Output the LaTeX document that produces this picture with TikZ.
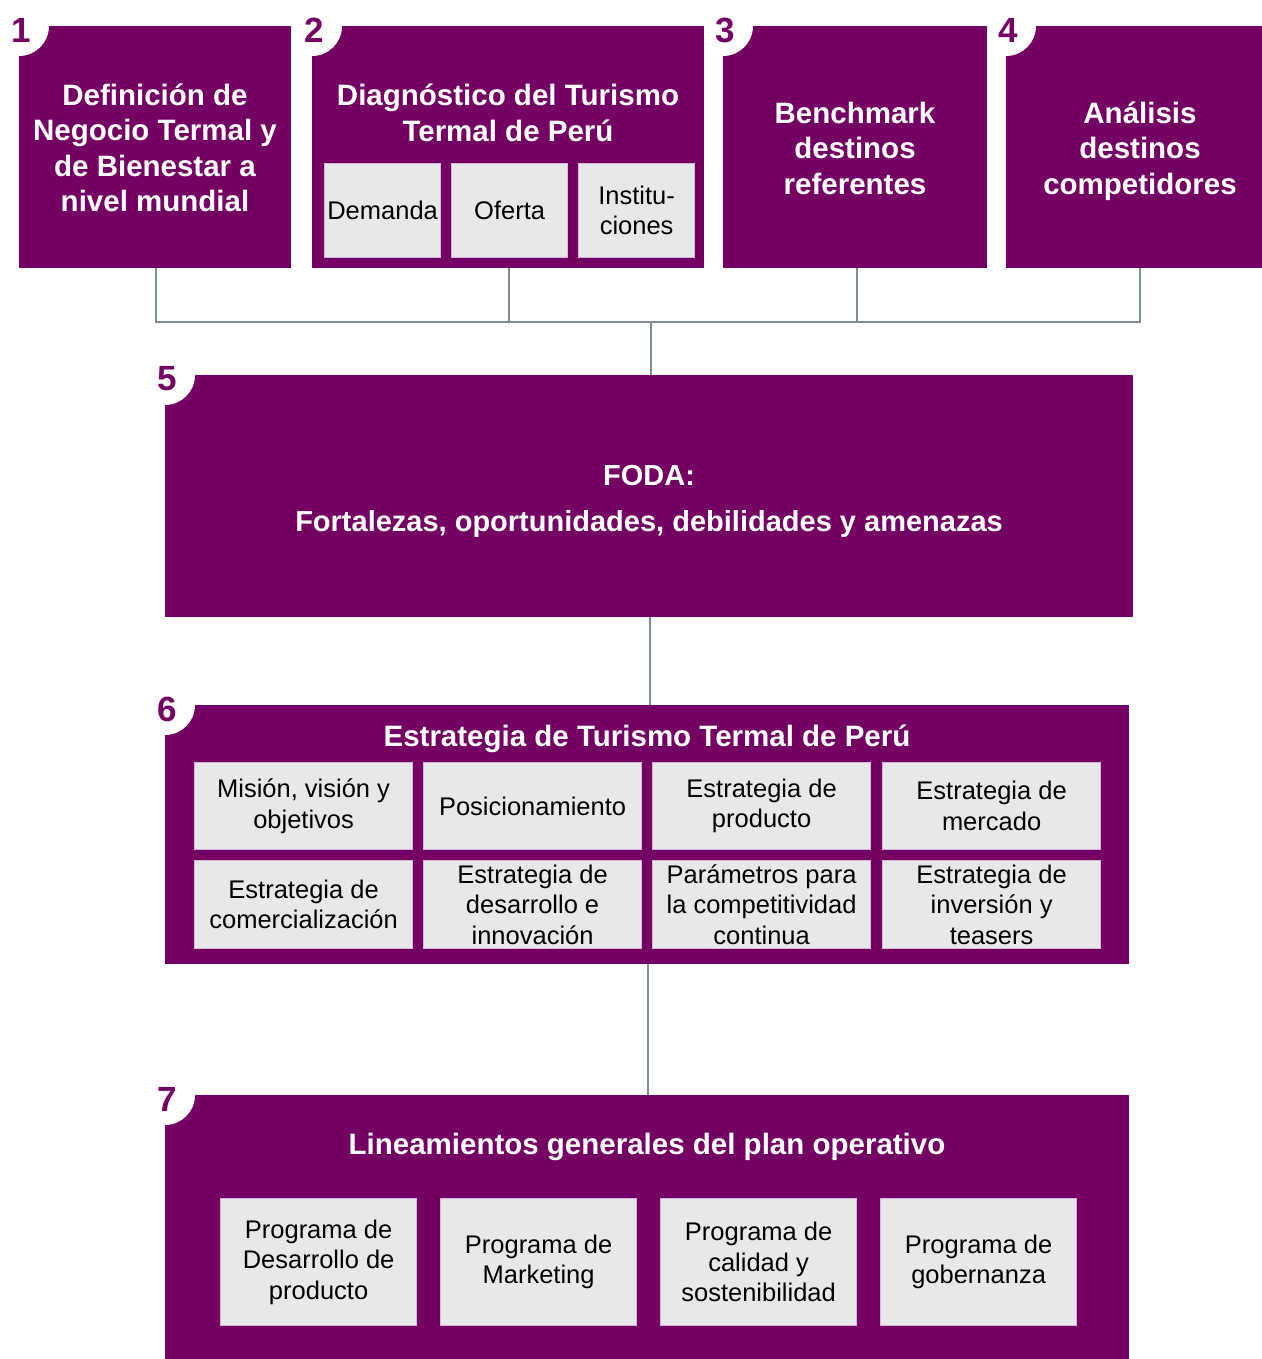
\documentclass[tikz,border=0pt]{standalone}
\usepackage{fontspec}
\setmainfont{Liberation Sans}
\definecolor{plum}{RGB}{115,0,98}
\definecolor{cellfill}{RGB}{230,232,234}
\definecolor{celledge}{RGB}{216,184,214}
\definecolor{wirecol}{RGB}{128,140,148}

\begin{document}
\begin{tikzpicture}[x=1pt,y=-1pt,
  stage/.style={fill=plum, draw=none, anchor=north west, inner sep=0pt},
  head/.style={text=white, font=\bfseries\fontsize{29.5}{35.5}\selectfont, align=center, inner sep=0pt},
  cell/.style={fill=cellfill, draw=celledge, line width=1.2pt, anchor=north west, inner sep=0pt,
    align=center, text=black, font=\fontsize{25.5}{30.5}\selectfont},
  num/.style={text=plum, font=\bfseries\fontsize{35}{35}\selectfont, inner sep=0pt},
  wire/.style={draw=wirecol, line width=2pt}]

\useasboundingbox (0,0) rectangle (1261,1359);

% stage boxes
\node[stage, minimum width=272, minimum height=242] (b1) at (19,26) {};
\node[stage, minimum width=392, minimum height=242] (b2) at (312,26) {};
\node[stage, minimum width=264, minimum height=242] (b3) at (723,26) {};
\node[stage, minimum width=268, minimum height=242] (b4) at (1006,26) {};
\node[stage, minimum width=968, minimum height=242] (b5) at (165,375) {};
\node[stage, minimum width=964, minimum height=259] (b6) at (165,705) {};
\node[stage, minimum width=964, minimum height=264] (b7) at (165,1095) {};

% rounded notch and step number at each box corner
\foreach \b/\n in {b1/1,b2/2,b3/3,b4/4,b5/5,b6/6,b7/7}{
  \fill[white] (\b.north west) -- ++(30,0) arc[start angle=0, end angle=90, radius=30] -- cycle;
  \node[num] (n\n) at ([shift={(2,4)}]\b.north west) {\n};
}

% texts of the first row
\node[head] (t1) at (155,148) {Definición de\\Negocio Termal y\\de Bienestar a\\nivel mundial};
\node[head] (t2) at (508,113) {Diagnóstico del Turismo\\Termal de Perú};
\node[head] (t3) at (855,148) {Benchmark\\destinos\\referentes};
\node[head] (t4) at (1140,151) {Análisis\\destinos\\competidores};

\node[cell, minimum width=116, minimum height=94] (d1) at (324,163) {Demanda};
\node[cell, minimum width=116, minimum height=94] (d2) at (451,163) {Oferta};
\node[cell, minimum width=116, minimum height=94] (d3) at (578,163) {Institu-\\ciones};

% FODA
\node[head, font=\bfseries\fontsize{29}{46}\selectfont] (t5) at (649,501)
  {FODA:\\Fortalezas, oportunidades, debilidades y amenazas};

% strategy
\node[head] (t6) at (647,739) {Estrategia de Turismo Termal de Perú};
\node[cell, minimum width=218, minimum height=87] (e1) at (194,762) {Misión, visión y\\objetivos};
\node[cell, minimum width=218, minimum height=87] (e2) at (423,762) {Posicionamiento};
\node[cell, minimum width=218, minimum height=87] (e3) at (652,762) {Estrategia de\\producto};
\node[cell, minimum width=218, minimum height=87] (e4) at (882,762) {Estrategia de\\mercado};
\node[cell, minimum width=218, minimum height=88] (e5) at (194,860) {Estrategia de\\comercialización};
\node[cell, minimum width=218, minimum height=88] (e6) at (423,860) {Estrategia de\\desarrollo e\\innovación};
\node[cell, minimum width=218, minimum height=88] (e7) at (652,860) {Parámetros para\\la competitividad\\continua};
\node[cell, minimum width=218, minimum height=88] (e8) at (882,860) {Estrategia de\\inversión y\\teasers};

% operating plan
\node[head] (t7) at (647,1147) {Lineamientos generales del plan operativo};
\node[cell, minimum width=196, minimum height=127] (p1) at (220,1198) {Programa de\\Desarrollo de\\producto};
\node[cell, minimum width=196, minimum height=127] (p2) at (440,1198) {Programa de\\Marketing};
\node[cell, minimum width=196, minimum height=127] (p3) at (660,1198) {Programa de\\calidad y\\sostenibilidad};
\node[cell, minimum width=196, minimum height=127] (p4) at (880,1198) {Programa de\\gobernanza};

% connectors
\coordinate (hub) at (651,322);
\coordinate (b4s) at (1140,268);
\draw[wire] ([xshift=1]b1.south) |- (hub) -| (b4s);
\draw[wire] ([xshift=1]b2.south) -- ([xshift=1]b2.south |- hub);
\draw[wire] ([xshift=2]b3.south) -- ([xshift=2]b3.south |- hub);
\draw[wire] (hub) -- (hub |- b5.north);
\draw[wire] ([xshift=1]b5.south) -- ([xshift=1]b5.south |- b6.north);
\draw[wire] ([xshift=1]b6.south) -- ([xshift=1]b6.south |- b7.north);
\end{tikzpicture}
\end{document}
